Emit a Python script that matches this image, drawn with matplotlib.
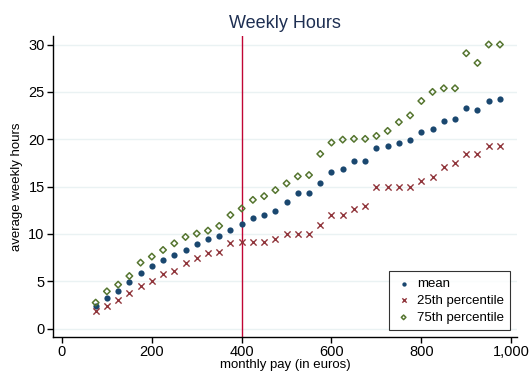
import matplotlib
matplotlib.use("Agg")
import matplotlib.pyplot as plt
import numpy as np

plt.rcParams['font.family'] = ['Liberation Sans', 'DejaVu Sans']

pay = [75, 100, 125, 150, 175, 200, 225, 250, 275, 300, 325, 350, 375,
       400, 425, 450, 475, 500, 525, 550, 575, 600, 625, 650, 675, 700,
       725, 750, 775, 800, 825, 850, 875, 900, 925, 950, 975]
mean_hours = [2.36, 3.24, 3.98, 4.96, 5.88, 6.58, 7.22, 7.78, 8.35, 8.91, 9.51, 9.82, 10.42,
              11.08, 11.66, 12.05, 12.44, 13.39, 14.35, 14.35, 15.37, 16.5, 16.89, 17.67, 17.67, 19.05,
              19.33, 19.64, 19.94, 20.79, 21.11, 21.96, 22.13, 23.3, 23.12, 24.07, 24.25]
p25_hours = [1.83, 2.39, 3.03, 3.73, 4.51, 5.04, 5.74, 6.09, 6.94, 7.5, 8.03, 8.1, 9.01,
             9.2, 9.2, 9.2, 9.43, 9.96, 9.96, 9.96, 10.99, 11.98, 11.98, 12.65, 13.0, 14.98,
             14.98, 15.0, 15.0, 15.64, 15.99, 17.05, 17.51, 18.43, 18.43, 19.27, 19.27]
p75_hours = [2.75, 3.94, 4.65, 5.56, 6.97, 7.61, 8.31, 9.01, 9.68, 10.04, 10.35, 10.85, 12.0,
             12.69, 13.6, 13.99, 14.63, 15.34, 16.08, 16.22, 18.45, 19.65, 19.96, 20.04, 20.04, 20.35,
             20.88, 21.81, 22.52, 24.04, 25.0, 25.38, 25.38, 29.08, 28.06, 30.0, 30.0]
x_ticks = [0, 200, 400, 600, 800, 1000]
x_tick_labels = ['0', '200', '400', '600', '800', '1,000']
y_ticks = [0, 5, 10, 15, 20, 25, 30]
cutoff = 400

fig = plt.figure(figsize=(5.29, 3.72), dpi=100)
ax = fig.add_axes([53/529, 1 - 337/372, (517 - 53)/529, (337 - 36)/372])

ax.set_xlim(-20, 1013)
ax.set_ylim(-0.88, 30.9)

for y in y_ticks:
    ax.axhline(y, color='#eaf2f3', lw=1.0, zorder=0)

ax.axvline(cutoff, color='#c10534', lw=1.0, zorder=1)

ax.scatter(pay, mean_hours, marker='o', s=20, color='#1a476f', linewidths=0, zorder=3, label='mean')
ax.scatter(pay, p25_hours, marker='x', s=20, color='#90353b', linewidths=1.0, zorder=3, label='25th percentile')
ax.scatter(pay, p75_hours, marker='D', s=11, facecolors='none', edgecolors='#55752f', linewidths=1.1, zorder=3, label='75th percentile')

ax.set_xticks(x_ticks)
ax.set_xticklabels(x_tick_labels)
ax.set_yticks(y_ticks)
ax.tick_params(axis='both', direction='out', length=4, width=1, labelsize=10.5, colors='black', pad=2)
for s in ['top', 'right']:
    ax.spines[s].set_visible(False)
for s in ['left', 'bottom']:
    ax.spines[s].set_linewidth(1.0)
    ax.spines[s].set_color('black')

ax.set_xlabel('monthly pay (in euros)', fontsize=9.5, labelpad=0)
ax.set_ylabel('average weekly hours', fontsize=9.5, labelpad=4)
ax.set_title('Weekly Hours', fontsize=13, color='#1e2f52', pad=6)

leg = ax.legend(loc='lower right', bbox_to_anchor=(1.0, 0.0), frameon=True, fancybox=False,
                fontsize=9.5, markerscale=0.7, handletextpad=0.4, borderpad=0.5,
                labelspacing=0.35, handlelength=1.2)
leg.get_frame().set_edgecolor('black')
leg.get_frame().set_linewidth(0.8)

fig.savefig('out.png', dpi=100)
